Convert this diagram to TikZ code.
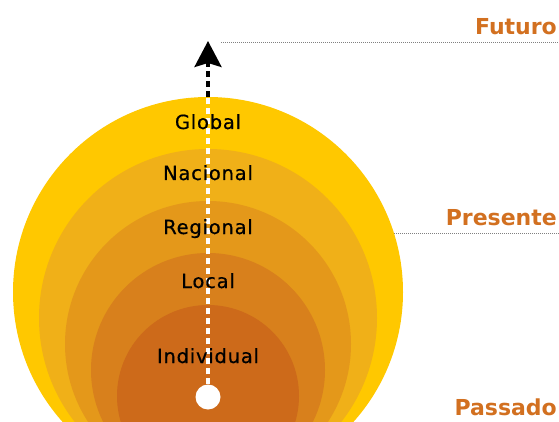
\documentclass[tikz,border=0pt]{standalone}
\usepackage{fontspec}
\setmainfont{DejaVu Sans}
\newfontfamily\ringfont[LetterSpace=4, FakeBold=0.6]{DejaVu Sans}
\usetikzlibrary{arrows.meta}

\definecolor{ringA}{RGB}{255,200,0}
\definecolor{ringB}{RGB}{240,176,24}
\definecolor{ringC}{RGB}{228,152,26}
\definecolor{ringD}{RGB}{216,128,28}
\definecolor{ringE}{RGB}{205,106,26}
\definecolor{epochorange}{RGB}{210,112,32}

\begin{document}
\begin{tikzpicture}[x=1pt, y=1pt, >=Stealth,
    ringlabel/.style={font=\ringfont\fontsize{19.5}{22}\selectfont, text=black, anchor=base, inner sep=0pt},
    epoch/.style={font=\bfseries\fontsize{22}{24}\selectfont, text=epochorange, anchor=base east, inner sep=0pt},
    timeline/.style={gray, line width=0.8pt, dash pattern=on 1pt off 1pt},
    trail/.style={line width=3.5pt, dash pattern=on 6pt off 4pt}]

        % Frame of the picture
        \clip (0,0) rectangle (559,421);

        % Dotted time lines
        \coordinate (futuro line) at (221,379);
        \coordinate (presente line) at (300,188);
        \draw[timeline] (futuro line) -- (559,379);
        \draw[timeline] (presente line) -- (559,188);

        % Nested circles, all touching at the bottom
        \fill[ringA] (208,129) circle (195);
        \fill[ringB] (208,103) circle (169);
        \fill[ringC] (208,77) circle (143);
        \fill[ringD] (208,51) circle (117);
        \fill[ringE] (208,25) circle (91);

        % Start point and arrow to the future
        \node[circle, fill=white, minimum size=25pt, inner sep=0pt] (start) at (208,24) {};
        \coordinate (rim) at (208,324);
        \coordinate (tip) at (208,380);
        \draw[trail, white] (start.north) -- (rim);
        \draw[trail, black, -{Stealth[length=26pt, width=27pt, inset=4pt]}] (rim) -- (tip);

        % Ring labels
        \node[ringlabel] (global) at (208,292) {Global};
        \node[ringlabel] (nacional) at (208,241) {Nacional};
        \node[ringlabel] (regional) at (208,187) {Regional};
        \node[ringlabel] (local) at (208,133) {Local};
        \node[ringlabel] (individual) at (208,58) {Individual};

        % Time labels on the right
        \node[epoch] (futuro) at (557,386) {Futuro};
        \node[epoch] (presente) at (557,196) {Presente};
        \node[epoch] (passado) at (557,6) {Passado};

    \end{tikzpicture}
\end{document}
